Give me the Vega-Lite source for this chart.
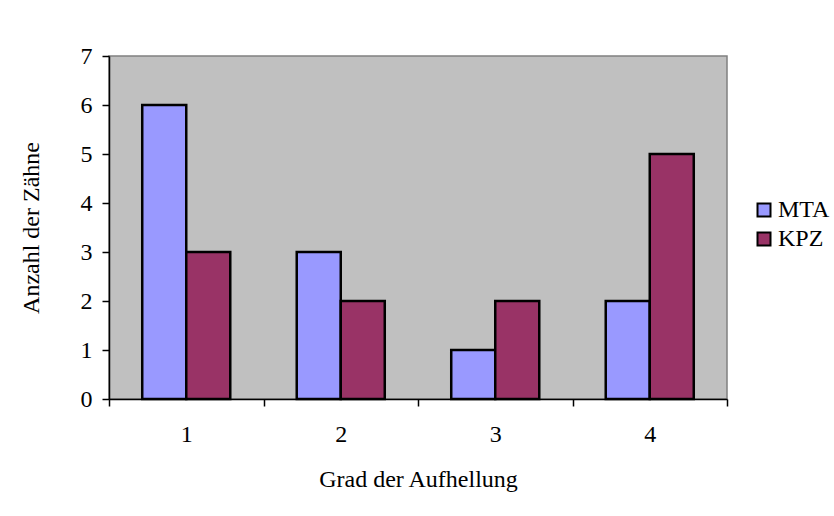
{
  "$schema": "https://vega.github.io/schema/vega-lite/v6.json",
  "width": 618,
  "height": 343,
  "autosize": {"type": "none"},
  "padding": {"left": 109, "top": 56, "right": 107, "bottom": 117},
  "background": "white",
  "data": {
    "values": [
      {"grad": "1", "serie": "MTA", "anzahl": 6},
      {"grad": "1", "serie": "KPZ", "anzahl": 3},
      {"grad": "2", "serie": "MTA", "anzahl": 3},
      {"grad": "2", "serie": "KPZ", "anzahl": 2},
      {"grad": "3", "serie": "MTA", "anzahl": 1},
      {"grad": "3", "serie": "KPZ", "anzahl": 2},
      {"grad": "4", "serie": "MTA", "anzahl": 2},
      {"grad": "4", "serie": "KPZ", "anzahl": 5}
    ]
  },
  "mark": {"type": "bar", "stroke": "black", "strokeWidth": 2.5},
  "encoding": {
    "x": {
      "field": "grad",
      "type": "nominal",
      "sort": ["1", "2", "3", "4"],
      "scale": {"paddingInner": 0, "paddingOuter": 0},
      "axis": {
        "title": "Grad der Aufhellung",
        "labelAngle": 0,
        "tickBand": "extent",
        "tickSize": 7,
        "tickColor": "black",
        "domainColor": "black",
        "labelPadding": 16,
        "titlePadding": 21
      }
    },
    "xOffset": {
      "field": "serie",
      "type": "nominal",
      "sort": ["MTA", "KPZ"],
      "scale": {"paddingInner": 0, "paddingOuter": 0.755}
    },
    "y": {
      "field": "anzahl",
      "type": "quantitative",
      "scale": {"domain": [0, 7], "nice": false},
      "axis": {
        "title": "Anzahl der Zähne",
        "values": [0, 1, 2, 3, 4, 5, 6, 7],
        "grid": false,
        "tickSize": 7,
        "tickColor": "black",
        "domainColor": "black",
        "labelPadding": 10,
        "titlePadding": 37
      }
    },
    "color": {
      "field": "serie",
      "type": "nominal",
      "sort": ["MTA", "KPZ"],
      "scale": {"domain": ["MTA", "KPZ"], "range": ["#9999FF", "#993366"]},
      "legend": {
        "title": null,
        "orient": "none",
        "legendX": 643,
        "legendY": 142,
        "symbolType": "square",
        "symbolSize": 169,
        "symbolStrokeColor": "black",
        "symbolStrokeWidth": 2,
        "symbolOpacity": 1,
        "labelOffset": 2,
        "rowPadding": 5
      }
    }
  },
  "config": {
    "font": "Liberation Serif",
    "view": {"fill": "#C0C0C0", "stroke": "#808080", "strokeWidth": 1.5},
    "axis": {
      "labelFont": "Liberation Serif",
      "titleFont": "Liberation Serif",
      "labelFontSize": 24,
      "titleFontSize": 24,
      "titleFontWeight": "normal",
      "labelColor": "black",
      "titleColor": "black",
      "domainWidth": 1.5,
      "tickWidth": 1.5
    },
    "legend": {
      "labelFont": "Liberation Serif",
      "labelFontSize": 24,
      "labelColor": "black"
    }
  }
}
